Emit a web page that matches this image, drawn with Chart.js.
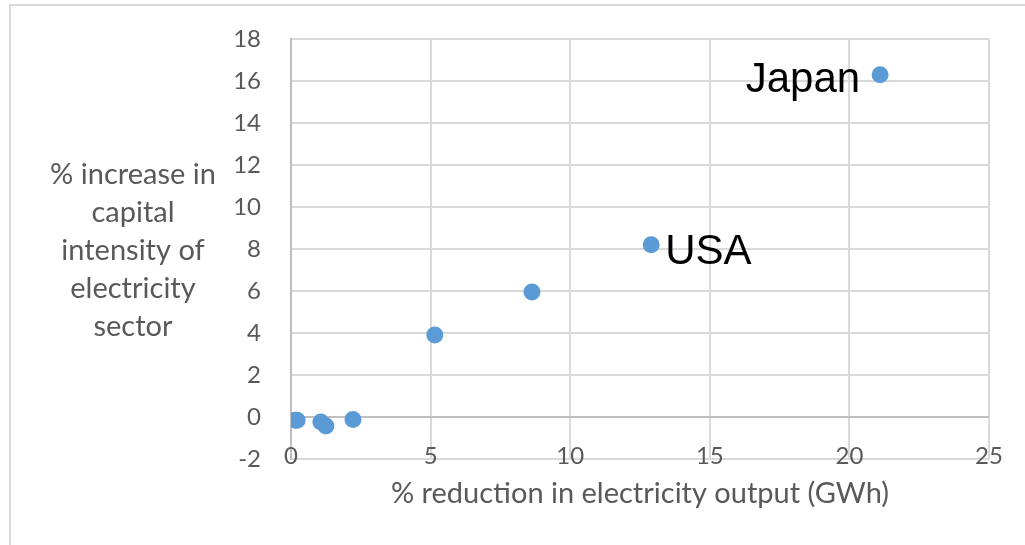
<!DOCTYPE html>
<html>
<head>
<meta charset="utf-8">
<script src="https://cdn.jsdelivr.net/npm/chart.js@4.4.0/dist/chart.umd.min.js"></script>
<style>
  html, body { margin: 0; padding: 0; background: #fff; overflow: hidden; }
  #wrap { position: relative; width: 1025px; height: 545px; }
</style>
</head>
<body>
<div id="wrap"><canvas id="c" width="1025" height="545"></canvas></div>
<script>
// Per-country results: output reduction vs. capital-intensity increase
const reductionOutput = [0.15, 0.22, 1.07, 1.25, 2.22, 5.15, 8.63, 12.9, 21.1];
const capitalIntensityIncrease = [-0.15, -0.15, -0.24, -0.43, -0.12, 3.9, 5.95, 8.2, 16.3];
const countryNames = ['', '', '', '', '', '', '', 'USA', 'Japan'];

const xTicks = [0, 5, 10, 15, 20, 25];
const yTicks = [-2, 0, 2, 4, 6, 8, 10, 12, 14, 16, 18];

const xAxisTitle = '% reduction in electricity output (GWh)';
const yAxisTitleLines = ['% increase in', 'capital', 'intensity of', 'electricity', 'sector'];

// Where each named point's label sits relative to its marker
const labelPlacement = {
  USA:   { align: 'left',  dx: 14,  dy: 8 },
  Japan: { align: 'right', dx: -20, dy: 6 }
};

const TICK_COLOR = '#595959';
const GRID_COLOR = '#d9d9d9';
const AXIS_COLOR = '#bfbfbf';
const tickFont = { family: 'Lato', size: 24 };
const titleFont = { family: 'Lato', size: 29 };

const points = reductionOutput.map((x, i) => ({ x: x, y: capitalIntensityIncrease[i] }));

// Outer frame of the chart object
const framePlugin = {
  id: 'frame',
  beforeDraw(chart) {
    const ctx = chart.ctx;
    ctx.save();
    ctx.strokeStyle = GRID_COLOR;
    ctx.lineWidth = 2;
    ctx.beginPath();
    ctx.moveTo(10, chart.height + 2);
    ctx.lineTo(10, 5);
    ctx.lineTo(chart.width + 2, 5);
    ctx.stroke();
    ctx.restore();
  }
};

// Category-axis numbers sit on the bottom gridline, so they are drawn here
const xTickLabelPlugin = {
  id: 'xTickLabels',
  afterDraw(chart) {
    const ctx = chart.ctx;
    const scale = chart.scales.x;
    const y = chart.chartArea.bottom - 3;
    ctx.save();
    ctx.font = tickFont.size + 'px ' + tickFont.family;
    ctx.fillStyle = TICK_COLOR;
    ctx.textAlign = 'center';
    ctx.textBaseline = 'middle';
    scale.ticks.forEach(t => ctx.fillText(String(t.value), scale.getPixelForValue(t.value), y));
    ctx.restore();
  }
};

// Horizontal, multi-line title for the vertical axis
const yTitlePlugin = {
  id: 'yTitle',
  afterDraw(chart) {
    const ctx = chart.ctx;
    const area = chart.chartArea;
    const lineGap = 38;
    const cx = 133;
    const cy = (area.top + area.bottom) / 2 + 2;
    const startY = cy - (yAxisTitleLines.length - 1) * lineGap / 2;
    ctx.save();
    ctx.font = titleFont.size + 'px ' + titleFont.family;
    ctx.fillStyle = TICK_COLOR;
    ctx.textAlign = 'center';
    ctx.textBaseline = 'middle';
    yAxisTitleLines.forEach((line, i) => ctx.fillText(line, cx, startY + i * lineGap));
    ctx.restore();
  }
};

// Country names next to their markers
const pointLabelPlugin = {
  id: 'pointLabels',
  afterDatasetsDraw(chart) {
    const ctx = chart.ctx;
    const meta = chart.getDatasetMeta(0);
    ctx.save();
    ctx.font = '42px "Liberation Sans", Arial, sans-serif';
    ctx.fillStyle = '#000';
    ctx.textBaseline = 'middle';
    meta.data.forEach((el, i) => {
      const name = countryNames[i];
      if (!name) return;
      const p = labelPlacement[name];
      ctx.textAlign = p.align;
      ctx.fillText(name, el.x + p.dx, el.y + p.dy);
    });
    ctx.restore();
  }
};

new Chart(document.getElementById('c'), {
  type: 'scatter',
  data: {
    datasets: [{
      data: points,
      backgroundColor: '#5b9bd5',
      borderWidth: 0,
      pointRadius: 8.5,
      pointHoverRadius: 8.5
    }]
  },
  options: {
    responsive: false,
    animation: false,
    devicePixelRatio: 1,
    layout: { padding: { left: 231, right: 36, top: 39, bottom: 34 } },
    plugins: { legend: { display: false }, tooltip: { enabled: false } },
    scales: {
      x: {
        type: 'linear',
        min: xTicks[0],
        max: xTicks[xTicks.length - 1],
        afterBuildTicks: s => { s.ticks = xTicks.map(v => ({ value: v })); },
        afterFit: s => { s.height = 52; s.paddingLeft = 0; s.paddingRight = 0; },
        border: { display: false },
        grid: {
          drawTicks: false,
          lineWidth: 2,
          color: c => (c.tick && c.tick.value === 0 ? AXIS_COLOR : GRID_COLOR)
        },
        ticks: { display: false },
        title: {
          display: true,
          text: xAxisTitle,
          color: TICK_COLOR,
          font: titleFont,
          padding: { top: 0, bottom: 0 }
        }
      },
      y: {
        type: 'linear',
        min: yTicks[0],
        max: yTicks[yTicks.length - 1],
        afterBuildTicks: s => { s.ticks = yTicks.map(v => ({ value: v })); },
        afterFit: s => { s.width = 60; s.paddingTop = 0; s.paddingBottom = 0; },
        border: { display: true, color: AXIS_COLOR, width: 2 },
        grid: {
          drawTicks: false,
          lineWidth: 2,
          color: c => (c.tick && c.tick.value === 0 ? AXIS_COLOR : GRID_COLOR)
        },
        ticks: { color: TICK_COLOR, font: tickFont, padding: 30, autoSkip: false }
      }
    }
  },
  plugins: [framePlugin, xTickLabelPlugin, yTitlePlugin, pointLabelPlugin]
});
</script>
</body>
</html>
